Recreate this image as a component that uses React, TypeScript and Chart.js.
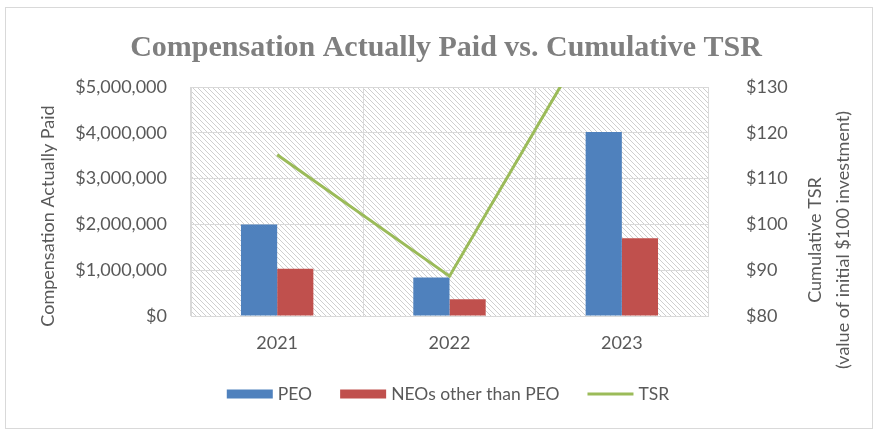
import React, { useEffect, useRef } from "react";
import { Chart, registerables } from "chart.js";

Chart.register(...registerables);

const years = ["2021", "2022", "2023"];
const peoValues = [2000000, 840000, 4020000];
const neoValues = [1030000, 365000, 1700000];
const tsrValues = [115.2, 88.7, 153];

const leftTicks = [0, 1000000, 2000000, 3000000, 4000000, 5000000];
const rightTicks = [80, 90, 100, 110, 120, 130];

const titleText = "Compensation Actually Paid vs. Cumulative TSR";
const leftTitle = "Compensation Actually Paid";
const rightTitle = ["Cumulative TSR", "(value of initial $100 investment)"];
const legendItems = [
  { label: "PEO", color: "#4f81bd", kind: "box" },
  { label: "NEOs other than PEO", color: "#c0504d", kind: "box" },
  { label: "TSR", color: "#9bbb59", kind: "line" },
];

const LABEL_COLOR = "#595959";
const GRID = "#d9d9d9";

function makeHatch(): CanvasPattern | string {
  const c = document.createElement("canvas");
  c.width = 5;
  c.height = 5;
  const g = c.getContext("2d");
  if (!g) return "#fff";
  g.fillStyle = "#ffffff";
  g.fillRect(0, 0, 5, 5);
  g.fillStyle = "#cfcfcf";
  for (let i = 0; i < 5; i++) g.fillRect(i, i, 1, 1);
  const p = g.createPattern(c, "repeat");
  return p || "#fff";
}

const decorPlugin = {
  id: "decor",
  beforeDraw(chart: any) {
    const { ctx, chartArea } = chart;
    ctx.save();
    ctx.fillStyle = "#ffffff";
    ctx.fillRect(0, 0, chart.width, chart.height);
    ctx.fillStyle = makeHatch();
    ctx.fillRect(chartArea.left, chartArea.top, chartArea.right - chartArea.left, chartArea.bottom - chartArea.top);
    ctx.restore();
  },
  afterDraw(chart: any) {
    const { ctx, chartArea } = chart;
    ctx.save();
    ctx.strokeStyle = GRID;
    ctx.lineWidth = 1;
    ctx.strokeRect(5.5, 7.5, 867, 421);
    ctx.fillStyle = "#7f7f7f";
    ctx.font = "bold 30px 'Liberation Serif'";
    ctx.textAlign = "center";
    ctx.textBaseline = "alphabetic";
    ctx.fillText(titleText, 446, 56);
    ctx.font = "18px Lato";
    ctx.fillStyle = LABEL_COLOR;
    ctx.textBaseline = "middle";
    ctx.save();
    ctx.translate(48, 216);
    ctx.rotate(-Math.PI / 2);
    ctx.fillText(leftTitle, 0, 0);
    ctx.restore();
    ctx.save();
    ctx.translate(chartArea.right, 240);
    ctx.rotate(-Math.PI / 2);
    ctx.fillText(rightTitle[0], 0, 107);
    ctx.fillText(rightTitle[1], 0, 135);
    ctx.restore();
    ctx.font = "17.5px Lato";
    ctx.textAlign = "left";
    const boxW = 46;
    const gapText = 5;
    const gapItem = 28;
    const widths = legendItems.map((it) => ctx.measureText(it.label).width);
    const total = widths.reduce((a, w) => a + boxW + gapText + w, 0) + gapItem * (legendItems.length - 1);
    let x = 448 - total / 2;
    const cy = 394;
    legendItems.forEach((it, i) => {
      if (it.kind === "box") {
        ctx.fillStyle = it.color;
        ctx.fillRect(x, cy - 4.5, boxW, 9);
      } else {
        ctx.strokeStyle = it.color;
        ctx.lineWidth = 3;
        ctx.beginPath();
        ctx.moveTo(x, cy);
        ctx.lineTo(x + boxW, cy);
        ctx.stroke();
      }
      x += boxW + gapText;
      ctx.fillStyle = LABEL_COLOR;
      ctx.fillText(it.label, x, cy);
      x += widths[i] + gapItem;
    });
    ctx.restore();
  },
};

export default function App() {
  const ref = useRef<HTMLCanvasElement | null>(null);
  useEffect(() => {
    if (!ref.current) return;
    const tickFont = { family: "Lato", size: 18 };
    const chart = new Chart(ref.current, {
      type: "bar",
      data: {
        labels: years,
        datasets: [
          {
            type: "bar",
            label: "PEO",
            data: peoValues,
            backgroundColor: "#4f81bd",
            yAxisID: "y",
            order: 2,
            categoryPercentage: 0.42,
            barPercentage: 1,
          },
          {
            type: "bar",
            label: "NEOs other than PEO",
            data: neoValues,
            backgroundColor: "#c0504d",
            yAxisID: "y",
            order: 2,
            categoryPercentage: 0.42,
            barPercentage: 1,
          },
          {
            type: "line",
            label: "TSR",
            data: tsrValues,
            borderColor: "#9bbb59",
            backgroundColor: "#9bbb59",
            borderWidth: 3,
            pointRadius: 0,
            tension: 0,
            yAxisID: "y1",
            order: 1,
          } as any,
        ],
      },
      options: {
        responsive: false,
        animation: false,
        devicePixelRatio: 1,
        layout: { padding: { top: 87, left: 0, right: 0, bottom: 0 } },
        plugins: {
          legend: { display: false },
          title: { display: false },
          tooltip: { enabled: false },
        },
        scales: {
          x: {
            grid: { color: GRID, drawTicks: false, offset: true },
            border: { color: GRID },
            ticks: { color: LABEL_COLOR, font: tickFont, padding: 16 },
            afterFit: (s: any) => {
              s.height = 432 - 316;
            },
          },
          y: {
            position: "left",
            min: 0,
            max: 5000000,
            afterBuildTicks: (s: any) => {
              s.ticks = leftTicks.map((v) => ({ value: v }));
            },
            grid: { color: GRID, drawTicks: false },
            border: { color: GRID },
            ticks: {
              color: LABEL_COLOR,
              font: tickFont,
              padding: 24,
              callback: (v: any) => "$" + Number(v).toLocaleString("en-US"),
            },
            afterFit: (s: any) => {
              s.width = 191;
            },
          },
          y1: {
            position: "right",
            min: 80,
            max: 130,
            afterBuildTicks: (s: any) => {
              s.ticks = rightTicks.map((v) => ({ value: v }));
            },
            grid: { display: false, drawTicks: false },
            border: { color: GRID },
            ticks: {
              color: LABEL_COLOR,
              font: tickFont,
              padding: 38,
              callback: (v: any) => "$" + v,
            },
            afterFit: (s: any) => {
              s.width = 877 - 708;
            },
          },
        },
      },
      plugins: [decorPlugin],
    } as any);
    return () => chart.destroy();
  }, []);
  return (
    <div style={{ position: "absolute", left: 0, top: 0, width: 877, height: 432 }}>
      <canvas ref={ref} width={877} height={432} style={{ display: "block" }} />
    </div>
  );
}
